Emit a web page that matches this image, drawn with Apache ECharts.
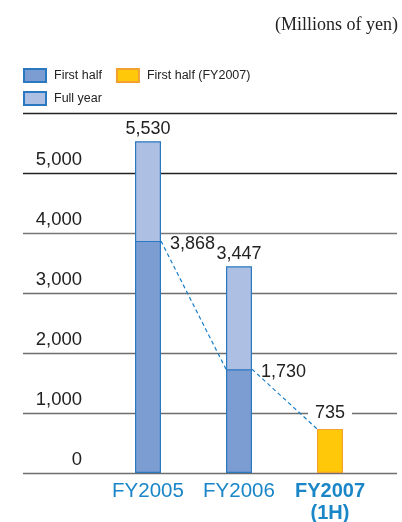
<!DOCTYPE html>
<html><head><meta charset="utf-8">
<script src="https://cdn.jsdelivr.net/npm/echarts@6/dist/echarts.min.js"></script>
<style>html,body{margin:0;padding:0;background:#fff}#c{width:402px;height:522px}</style>
</head><body><div id="c"></div>
<script>
var categories = ['FY2005', 'FY2006', 'FY2007'];
var firstHalf = [3868, 1730, null];
var fullYear = [5530, 3447, null];
var firstHalfFY2007 = [null, null, 735];
var yTicks = [0, 1000, 2000, 3000, 4000, 5000, 6000];

var chart = echarts.init(document.getElementById('c'));
var numFont = '"Liberation Sans Narrow", "Liberation Sans", Arial, sans-serif';
var BW = 26;

function fmt(v){ return v.toLocaleString('en-US'); }

var legendText = { fontFamily: 'Liberation Sans, Arial, sans-serif', fontSize: 12.5, color: '#222', padding: [0,0,0,3] };

chart.setOption({
  animation: false,
  title: {
    text: '(Millions of yen)', right: 4, top: 16, padding: 0,
    textStyle: { fontFamily: '"Liberation Serif", "DejaVu Serif", serif', fontSize: 18, fontWeight: 'normal', color: '#222' }
  },
  legend: [
    { left: 23, top: 68, padding: 0, itemWidth: 22, itemHeight: 13, itemGap: 14, selectedMode: false, icon: 'rect',
      data: ['First half', 'First half (FY2007)'], textStyle: legendText },
    { left: 23, top: 91, padding: 0, itemWidth: 22, itemHeight: 13, selectedMode: false, icon: 'rect',
      data: ['Full year'], textStyle: legendText }
  ],
  grid: [
    { left: 23, right: 5, top: 113, bottom: 49, outerBoundsMode: 'none', containLabel: false },
    { left: 102.5, right: 26.5, top: 113, bottom: 49, outerBoundsMode: 'none', containLabel: false }
  ],
  xAxis: [
    { gridIndex: 0, type: 'value', min: 0, max: 1, show: false },
    { gridIndex: 1, type: 'category', data: categories,
      axisLine: { show: false }, axisTick: { show: false },
      axisLabel: {
        interval: 0, hideOverlap: false,
        margin: 7, fontFamily: 'Liberation Sans, Arial, sans-serif', fontSize: 20.5, color: '#1a86c8', lineHeight: 22,
        formatter: function(v, i){ return i === 2 ? '{b|' + v + '}\n{b|(1H)}' : v; },
        rich: { b: { fontWeight: 'bold', fontSize: 20, color: '#1a86c8', lineHeight: 22, fontFamily: 'Liberation Sans, Arial, sans-serif' } }
      } }
  ],
  yAxis: [
    { gridIndex: 0, type: 'value', min: yTicks[0], max: yTicks[yTicks.length-1], interval: 1000,
      axisLine: { show: false }, axisTick: { show: false },
      splitLine: { show: true, lineStyle: { width: 1.3, color: ['#6e6e6e','#6e6e6e','#6e6e6e','#6e6e6e','#777','#222','#222'] } },
      axisLabel: { inside: true, margin: 59, align: 'right', verticalAlign: 'bottom', padding: [0,0,4,0],
        showMaxLabel: false, fontFamily: numFont, fontSize: 18.5, color: '#222',
        formatter: function(v){ return fmt(v); } } },
    { gridIndex: 1, type: 'value', min: yTicks[0], max: yTicks[yTicks.length-1], interval: 1000, show: false, splitLine: { show: false } }
  ],
  series: [
    { name: 'Full year', type: 'bar', xAxisIndex: 1, yAxisIndex: 1, data: fullYear, barWidth: BW, barGap: '-100%', z: 2,
      itemStyle: { color: '#adc0e4', borderColor: '#2a78c0', borderWidth: 1.2 },
      label: { show: true, position: 'top', distance: 3, fontFamily: numFont, fontSize: 18, color: '#222',
        formatter: function(p){ return fmt(p.value); } } },
    { name: 'First half', type: 'bar', xAxisIndex: 1, yAxisIndex: 1, data: firstHalf, barWidth: BW, barGap: '-100%', z: 3,
      itemStyle: { color: '#7b9dd2', borderColor: '#2a78c0', borderWidth: 1.2 },
      label: { show: true, position: [BW + 9, -6], align: 'left', verticalAlign: 'top', fontFamily: numFont, fontSize: 18, color: '#222',
        formatter: function(p){ return fmt(p.value); } } },
    { name: 'First half (FY2007)', type: 'bar', xAxisIndex: 1, yAxisIndex: 1, data: firstHalfFY2007, barWidth: BW, barGap: '-100%', z: 3,
      itemStyle: { color: '#ffc90a', borderColor: '#f2a030', borderWidth: 1.2 },
      label: { show: true, position: 'top', distance: 7, fontFamily: numFont, fontSize: 18, color: '#222',
        backgroundColor: '#fff', padding: [0, 7, 0, 7],
        formatter: function(p){ return fmt(p.value); } } },
    { type: 'custom', xAxisIndex: 1, yAxisIndex: 1, z: 4, silent: true,
      data: categories.map(function(c, i){ return [i, firstHalf[i] != null ? firstHalf[i] : firstHalfFY2007[i]]; }),
      renderItem: function(params, api){
        var i = api.value(0);
        if (i === 0) return null;
        var prevVal = firstHalf[i-1];
        var a = api.coord([i-1, prevVal]);
        var b = api.coord([i, api.value(1)]);
        return { type: 'line', shape: { x1: a[0] + BW/2, y1: a[1], x2: b[0] - BW/2, y2: b[1] },
          style: { stroke: '#1a7fc8', lineWidth: 1.2, lineDash: [4, 3] } };
      } }
  ]
});
</script></body></html>
